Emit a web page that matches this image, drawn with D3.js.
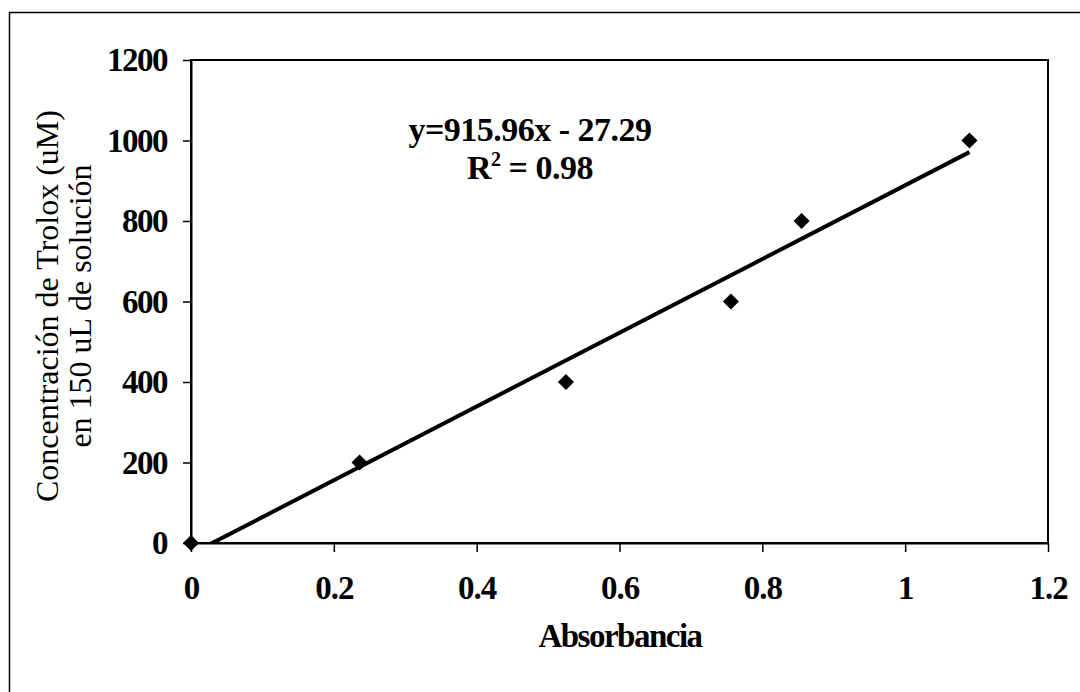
<!DOCTYPE html>
<html>
<head>
<meta charset="utf-8">
<script src="https://cdn.jsdelivr.net/npm/d3@7"></script>
<style>
  html, body { margin: 0; padding: 0; background: #fff; }
  svg { display: block; }
  text { font-family: "Liberation Serif", "Times New Roman", serif; fill: #000; }
</style>
</head>
<body>
<script>
// Trolox calibration standards: absorbance vs. concentration
const absorbance = [0, 0.236, 0.525, 0.756, 0.855, 1.090];
const concentration = [0, 200, 400, 600, 800, 1000];
const xTicks = [0, 0.2, 0.4, 0.6, 0.8, 1, 1.2];
const yTicks = [0, 200, 400, 600, 800, 1000, 1200];
const slope = 915.96;
const intercept = -27.29;
const rSquared = 0.98;

const W = 1080, H = 692;
const plot = { left: 191, right: 1048, top: 60, bottom: 543 };

const svg = d3.select("body").append("svg")
  .attr("width", W).attr("height", H);

svg.append("rect").attr("width", W).attr("height", H).attr("fill", "#fff");

// outer chart frame
svg.append("rect")
  .attr("x", 9.5).attr("y", 12.5)
  .attr("width", W + 20).attr("height", H + 20)
  .attr("fill", "none").attr("stroke", "#000").attr("stroke-width", 1.5);

const x = d3.scaleLinear().domain([0, 1.2]).range([plot.left, plot.right]);
const y = d3.scaleLinear().domain([0, 1200]).range([plot.bottom, plot.top]);

// plot area border
svg.append("rect")
  .attr("x", plot.left).attr("y", plot.top)
  .attr("width", plot.right - plot.left).attr("height", plot.bottom - plot.top)
  .attr("fill", "none").attr("stroke", "#000").attr("stroke-width", 2);

const fmtX = d => d === 0 || d === 1 ? String(d) : d3.format(".1f")(d);

const xAxis = svg.append("g")
  .attr("transform", `translate(0,${plot.bottom})`)
  .call(d3.axisBottom(x).tickValues(xTicks).tickFormat(fmtX).tickSizeInner(9).tickSizeOuter(0).tickPadding(24));
xAxis.select(".domain").attr("stroke-width", 2);
xAxis.selectAll(".tick line").attr("stroke-width", 1.5);
xAxis.selectAll(".tick text")
  .style("font-family", "'Liberation Serif', serif")
  .attr("font-size", 33).attr("font-weight", "bold").attr("fill", "#000")
  .attr("letter-spacing", -1)
  .attr("dy", "0.71em");

const yAxis = svg.append("g")
  .attr("transform", `translate(${plot.left},0)`)
  .call(d3.axisLeft(y).tickValues(yTicks).tickFormat(d3.format("d")).tickSizeInner(8).tickSizeOuter(0).tickPadding(16));
yAxis.select(".domain").attr("stroke-width", 2);
yAxis.selectAll(".tick line").attr("stroke-width", 1.5);
yAxis.selectAll(".tick text")
  .style("font-family", "'Liberation Serif', serif")
  .attr("font-size", 33).attr("font-weight", "bold").attr("fill", "#000")
  .attr("letter-spacing", -1.5);

// linear trendline, clipped to the plot area
svg.append("clipPath").attr("id", "plot-clip")
  .append("rect")
  .attr("x", plot.left).attr("y", plot.top)
  .attr("width", plot.right - plot.left).attr("height", plot.bottom - plot.top);

const xMin = d3.min(absorbance), xMax = d3.max(absorbance);
const fit = [xMin, xMax].map(a => [a, slope * a + intercept]);
svg.append("path")
  .datum(fit)
  .attr("clip-path", "url(#plot-clip)")
  .attr("fill", "none").attr("stroke", "#000").attr("stroke-width", 4)
  .attr("d", d3.line().x(d => x(d[0])).y(d => y(d[1])));

// data markers (diamonds)
const diamond = d3.symbol().type(d3.symbolSquare).size(130);
svg.append("g").selectAll("path")
  .data(absorbance.map((a, i) => [a, concentration[i]]))
  .join("path")
  .attr("d", diamond)
  .attr("transform", d => `translate(${x(d[0])},${y(d[1])}) rotate(45)`)
  .attr("fill", "#000");

// regression annotation
svg.append("text")
  .attr("x", 530).attr("y", 141)
  .attr("text-anchor", "middle")
  .attr("font-size", 34).attr("font-weight", "bold").attr("letter-spacing", -0.5)
  .text(`y=${slope}x - ${Math.abs(intercept)}`);

const r2 = svg.append("text")
  .attr("x", 530).attr("y", 179)
  .attr("text-anchor", "middle")
  .attr("font-size", 34).attr("font-weight", "bold").attr("letter-spacing", -0.5);
r2.append("tspan").text("R");
r2.append("tspan").attr("dy", -13).attr("font-size", 20).text("2");
r2.append("tspan").attr("dy", 13).text(" = ");
r2.append("tspan").text(rSquared);

// axis titles
svg.append("text")
  .attr("x", 620).attr("y", 647)
  .attr("text-anchor", "middle")
  .attr("font-size", 33).attr("font-weight", "bold").attr("letter-spacing", -1.5)
  .text("Absorbancia");

const yTitle = svg.append("text")
  .attr("transform", "translate(0,306) rotate(-90)")
  .attr("text-anchor", "middle")
  .attr("font-size", 32);
yTitle.append("tspan").attr("x", 0).attr("y", 58).text("Concentración de Trolox (uM)");
yTitle.append("tspan").attr("x", 0).attr("y", 91).text("en 150 uL de solución");
</script>
</body>
</html>
